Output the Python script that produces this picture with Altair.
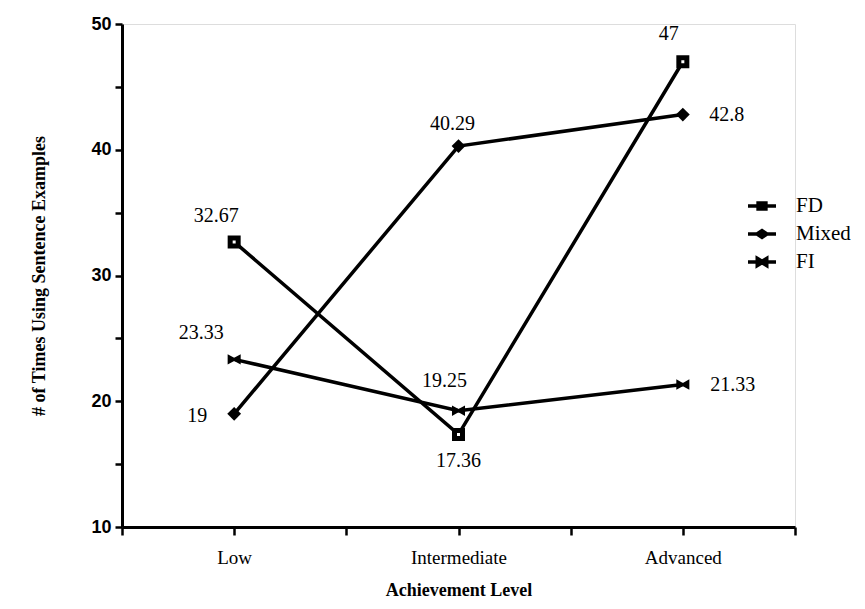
import altair as alt
import pandas as pd

levels = ["Low", "Intermediate", "Advanced"]
series = ["FD", "Mixed", "FI"]
fd_values = [32.67, 17.36, 47]
mixed_values = [19, 40.29, 42.8]
fi_values = [23.33, 19.25, 21.33]
y_ticks = [10, 15, 20, 25, 30, 35, 40, 45, 50]

series_values = {"FD": fd_values, "Mixed": mixed_values, "FI": fi_values}
rows = []
for s in series:
    for i, lv in enumerate(levels):
        rows.append({"series": s, "level": lv, "idx": i, "value": series_values[s][i]})
df = pd.DataFrame(rows)

# label placement (pixel offsets) per point
label_offsets = {
    ("FD", "Low"): (-18, -26),
    ("FD", "Intermediate"): (0, 27),
    ("FD", "Advanced"): (-14, -28),
    ("Mixed", "Low"): (-37, 2),
    ("Mixed", "Intermediate"): (-6, -22),
    ("Mixed", "Advanced"): (44, 0),
    ("FI", "Low"): (-33, -26),
    ("FI", "Intermediate"): (-14, -30),
    ("FI", "Advanced"): (50, 0),
}

label_expr = " : ".join(
    [f"datum.value === {i} ? '{lv}'" for i, lv in enumerate(levels)]
) + " : ''"

X = alt.X(
    "idx:Q",
    scale=alt.Scale(domain=[-0.5, len(levels) - 0.5], nice=False, zero=False),
    axis=alt.Axis(
        title="Achievement Level",
        values=[-0.5, 0, 0.5, 1, 1.5, 2, 2.5],
        labelExpr=label_expr,
        grid=False,
        domainColor="black", domainWidth=3,
        tickColor="black", tickWidth=2.5, tickSize=8,
        labelFont="Liberation Serif", labelFontSize=19, labelColor="black",
        labelPadding=13,
        titleFont="Liberation Serif", titleFontSize=18, titleFontWeight="bold",
        titleColor="black", titlePadding=14,
    ),
)
Y = alt.Y(
    "value:Q",
    scale=alt.Scale(domain=[10, 50], nice=False, zero=False),
    axis=alt.Axis(
        title="# of Times Using Sentence Examples",
        values=y_ticks,
        labelExpr="datum.value % 10 === 0 ? datum.label : ''",
        grid=False,
        domainColor="black", domainWidth=3,
        tickColor="black", tickWidth=2.5, tickSize=7,
        labelFont="Liberation Sans", labelFontSize=18, labelFontWeight="bold",
        labelColor="black", labelPadding=4,
        titleFont="Liberation Serif", titleFontSize=18, titleFontWeight="bold",
        titleColor="black", titlePadding=42,
    ),
)

base = alt.Chart(df)

lines = base.mark_line(color="black", strokeWidth=3.5).encode(
    x=X, y=Y, detail="series:N", order="idx:Q"
)

bowtie = "M-1,-0.8L0,-0.25L1,-0.8L1,0.8L0,0.25L-1,0.8Z"

pts_fd = base.transform_filter(alt.datum.series == "FD").mark_point(
    shape="square", filled=True, fill="white", stroke="black",
    strokeWidth=5, size=64, opacity=1
).encode(x=X, y=Y)
pts_mixed = base.transform_filter(alt.datum.series == "Mixed").mark_point(
    shape="diamond", filled=True, color="black", size=190, opacity=1
).encode(x=X, y=Y)
pts_fi = base.transform_filter(alt.datum.series == "FI").mark_point(
    shape=bowtie, filled=True, color="black", size=170, opacity=1
).encode(x=X, y=Y)

legend_paths = [
    "M-1,0L1,0M-0.28,-0.22L0.28,-0.22L0.28,0.22L-0.28,0.22Z",
    "M-1,0L1,0M-0.36,0L0,-0.24L0.36,0L0,0.24Z",
    "M-1,0L1,0M-0.34,-0.26L0,-0.06L0.34,-0.26L0.34,0.26L0,0.06L-0.34,0.26Z",
]
legend_layer = base.mark_point(
    filled=False, color="black", strokeWidth=3.5, size=784, opacity=0
).encode(
    x=X, y=Y,
    shape=alt.Shape(
        "series:N",
        scale=alt.Scale(domain=series, range=legend_paths),
        legend=alt.Legend(
            title=None, orient="none", legendX=624, legendY=166,
            symbolSize=784, symbolStrokeWidth=3.5, symbolFillColor="black",
            symbolStrokeColor="black", symbolOpacity=1,
            labelFont="Liberation Serif", labelFontSize=21, labelColor="black",
            labelOffset=18, rowPadding=1, padding=0,
        ),
    ),
)

texts = []
for (s, lv), (dx, dy) in label_offsets.items():
    texts.append(
        base.transform_filter(
            (alt.datum.series == s) & (alt.datum.level == lv)
        ).mark_text(
            font="Liberation Serif", fontSize=20, color="black",
            dx=dx, dy=dy, align="center", baseline="middle"
        ).encode(x=X, y=Y, text=alt.Text("value:Q"))
    )

chart = alt.layer(lines, pts_fd, pts_mixed, pts_fi, legend_layer, *texts).properties(
    width=673, height=503,
    autosize=alt.AutoSizeParams(type="none"),
    padding={"left": 114, "top": 16, "right": 62, "bottom": 74},
).configure_view(stroke=None).configure(background="white")

chart.save("out.html", embed_options={"renderer": "svg", "actions": False})
